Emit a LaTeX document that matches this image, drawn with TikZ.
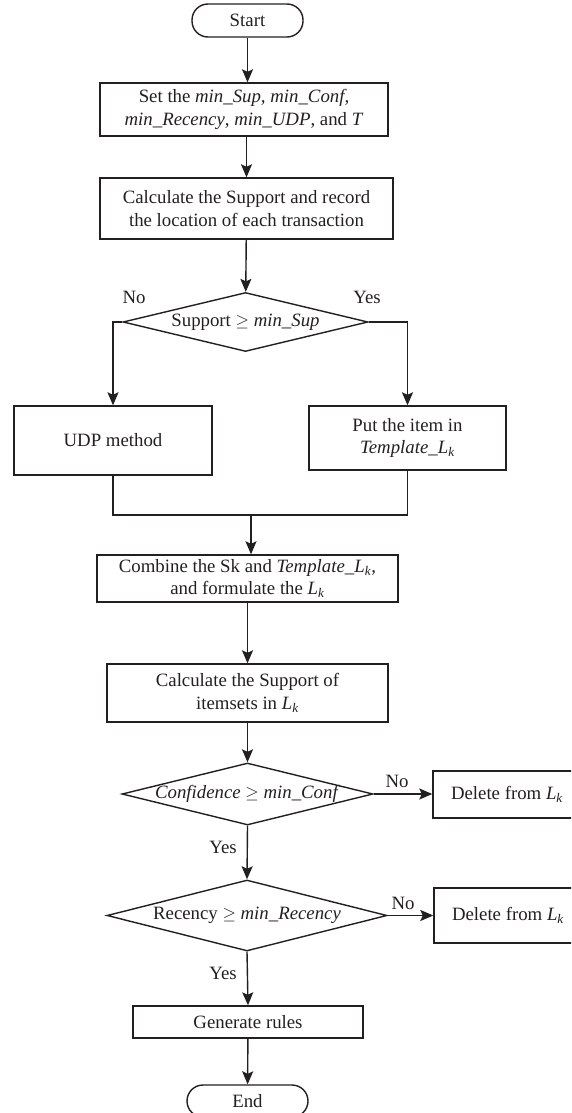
\documentclass[tikz,border=0pt]{standalone}
\usepackage{fontspec}
\setmainfont{Liberation Serif}
\usetikzlibrary{shapes.geometric,arrows.meta}
\definecolor{ink}{RGB}{35,31,32}
\newcommand{\Lk}{\textit{L}\textsubscript{\textit{k}}}
\begin{document}
\begin{tikzpicture}[x=1pt,y=-1pt,
  every node/.style={font=\fontsize{18.8}{22.5}\selectfont, text=ink},
  box/.style={draw=ink, line width=1.4pt, rectangle, inner sep=0pt, align=center},
  term/.style={box, rounded corners=16pt},
  dia/.style={draw=ink, line width=1.4pt, diamond, inner sep=0pt},
  flow/.style={draw=ink, line width=1.4pt, -{Stealth[length=13pt,width=11pt,inset=2.5pt]}},
  link/.style={draw=ink, line width=1.4pt}]
\useasboundingbox (0,0) rectangle (571,1113);
\clip (0,0) rectangle (571,1113);
\node[term, minimum width=111pt, minimum height=33pt] (start) at (247.5,20.5) {Start};
\node[box, minimum width=288pt, minimum height=53pt] (set) at (244,109.5) {Set the \textit{min\_Sup, min\_Conf,}\\\textit{min\_Recency}, \textit{min\_UDP}, and \textit{T}};
\node[box, minimum width=293pt, minimum height=61pt] (calc) at (246.5,208.5) {Calculate the Support and record\\the location of each transaction};
\node[dia, minimum width=245pt, minimum height=59pt] (d1) at (245.5,322) {};
\node at (d1) {Support $\geq$ \textit{min\_Sup}};
\node[box, minimum width=198pt, minimum height=69pt] (udp) at (113,440.5) {UDP method};
\node[box, minimum width=197pt, minimum height=64pt] (put) at (407.5,438) {Put the item in\\\textit{Template\_}\Lk};
\coordinate (merge) at (251,515);
\node[box, minimum width=301pt, minimum height=47pt] (comb) at (247.5,578.5) {Combine the Sk and \textit{Template\_}\Lk,\\and formulate the \Lk};
\node[box, minimum width=281pt, minimum height=58pt] (calc2) at (247.5,693) {Calculate the Support of\\itemsets in \Lk};
\node[dia, minimum width=251pt, minimum height=62pt] (d2) at (247.5,794) {};
\node at (d2) {\textit{Confidence} $\geq$ \textit{min\_Conf}};
\node[box, minimum width=148pt, minimum height=47pt] (del1) at (507,794.5) {Delete from \Lk};
\node[dia, minimum width=280pt, minimum height=71pt] (d3) at (247,915.5) {};
\node at (d3) {Recency $\geq$ \textit{min\_Recency}};
\node[box, minimum width=148pt, minimum height=55pt] (del2) at (508,915.5) {Delete from \Lk};
\node[box, minimum width=230pt, minimum height=32pt] (gen) at (248,1022) {Generate rules};
\node[term, minimum width=121pt, minimum height=32pt] (end) at (247.5,1101) {End};
\path[flow] (start) -- (start.south |- set.north);
\path[flow] (set.south -| calc.north) -- (calc.north);
\path[flow] (calc) -- (d1);
\path[flow] (d1.west) -| (udp.north);
\path[flow] (d1.east) -| (put.north);
\path[link] (udp.south) |- (merge) -| (put.south);
\path[flow] (merge) -- (merge |- comb.north);
\path[flow] (comb) -- (comb.south |- calc2.north);
\path[flow] (calc2) -- (d2);
\path[flow] (d2.east) -- (d2.east -| del1.west);
\path[flow] (d2.south) -- (d3.north);
\path[flow] (d3.east) -- (d3.east -| del2.west);
\path[flow] (d3.south) -- (gen.north);
\path[flow] (gen) -- (end);
\node (no1) at (134,297) {No};
\node (yes1) at (367,297) {Yes};
\node (no2) at (397,781) {No};
\node (yes2) at (223,847) {Yes};
\node (no3) at (403,903) {No};
\node (yes3) at (223,973) {Yes};
\end{tikzpicture}
\end{document}
